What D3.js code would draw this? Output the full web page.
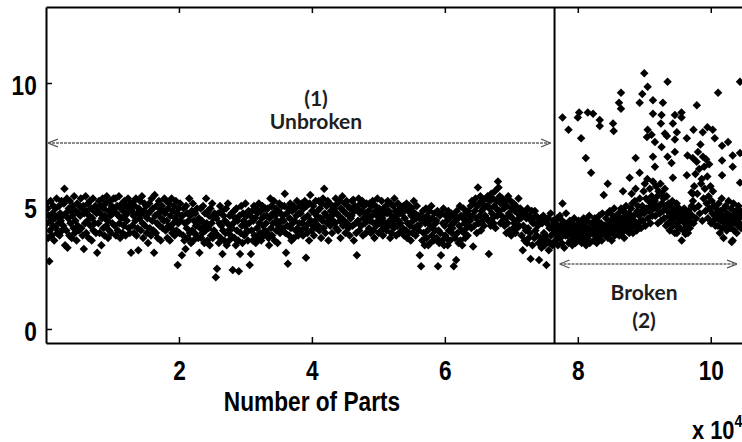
<!DOCTYPE html>
<html>
<head>
<meta charset="utf-8">
<script src="https://cdn.jsdelivr.net/npm/d3@7"></script>
<style>
  body { margin: 0; background: #fff; }
  .tick text { font-family: 'Liberation Sans', Arial, sans-serif; font-weight: bold; font-size: 27px; fill: #000; }
  .note { font-family: Lato, 'Open Sans', sans-serif; font-weight: bold; font-size: 21px; fill: #1e1e1e; }
  .lbl { font-family: 'Liberation Sans', Arial, sans-serif; font-weight: bold; fill: #000; }
</style>
</head>
<body>
<svg id="chart" width="742" height="442"></svg>
<script>
// tick labels (x axis is in units of 10^4 parts)
const xTicks = [2, 4, 6, 8, 10];
const yTicks = [0, 5, 10];

// part index where the tool broke, and last part visible
const breakPart = 7.65;
const lastPart = 10.47;

// values for the unbroken tool, in part order
const unbrokenValues = [
  5.1,4.3,4.9,3.7,4.6,2.75,4.0,5.2,4.4,3.8,4.7,4.2,5.0,3.6,4.5,4.9,4.1,5.3,3.9,4.6,4.3,5.0,3.8,4.7,4.4,5.2,4.0,4.6,
  4.2,5.1,5.7,3.4,4.7,4.0,5.3,3.3,4.5,4.9,3.8,5.2,4.3,4.8,3.7,4.6,5.0,4.1,5.4,3.9,4.4,4.8,3.6,5.1,4.2,4.7,4.0,5.0,
  4.6,5.3,4.1,4.9,3.8,5.0,3.25,4.7,4.3,5.4,3.9,4.8,4.4,5.1,3.7,4.6,5.2,4.2,4.9,3.6,4.5,5.3,4.0,4.8,4.3,5.0,3.9,4.7,
  3.1,4.8,4.3,5.2,3.9,4.7,5.0,3.4,4.5,5.3,4.1,4.9,3.8,4.6,5.1,4.2,5.4,4.4,3.7,4.8,4.0,5.2,4.6,3.9,5.0,4.3,4.7,5.3,
  4.9,4.2,5.3,3.8,4.7,5.0,4.0,4.6,5.4,4.3,3.7,4.9,4.5,5.1,3.9,4.8,4.2,5.2,4.6,3.8,5.0,4.4,4.7,5.3,4.1,4.9,3.9,5.1,
  3.1,4.8,4.2,5.15,4.6,3.9,5.0,4.4,5.3,3.8,4.7,4.1,3.2,4.9,4.5,5.2,4.0,4.7,5.4,4.3,3.7,4.8,5.1,4.2,4.6,5.0,3.9,4.5,
  3.5,4.7,5.1,4.1,4.8,3.8,5.3,4.4,4.9,4.0,3.1,5.45,4.6,3.9,5.0,4.3,3.7,4.7,5.2,4.2,4.9,3.6,4.5,5.0,4.1,4.8,4.4,5.3,
  4.7,4.0,5.2,4.4,3.7,4.9,4.2,5.1,3.6,4.6,4.1,5.3,3.9,4.8,4.3,5.0,3.8,4.5,5.2,4.0,4.7,2.6,4.3,4.9,3.9,5.1,4.4,4.6,
  3.0,4.6,3.8,4.9,3.6,4.3,3.25,5.0,4.1,4.7,3.7,4.4,5.3,3.9,4.6,3.5,4.8,4.0,5.1,3.6,4.4,3.9,4.7,4.2,3.8,4.9,4.3,3.7,
  4.5,3.1,4.1,4.9,3.7,4.4,3.9,5.0,4.2,3.5,4.7,4.0,5.3,4.3,3.6,4.8,4.1,4.6,3.4,4.9,3.8,4.3,5.1,3.7,4.5,4.0,4.7,3.9,
  2.1,4.5,2.45,3.8,4.7,3.5,4.3,5.0,3.7,4.2,4.8,3.05,4.0,4.6,3.6,4.4,3.9,4.9,3.4,4.3,5.1,4.0,3.6,4.6,4.2,3.8,4.7,4.1,
  2.4,4.3,4.8,3.7,4.5,3.4,4.9,4.0,4.4,3.6,2.35,4.6,3.05,3.9,5.0,4.2,3.5,4.7,4.4,3.8,4.2,5.1,3.9,4.6,4.0,3.6,4.8,4.3,
  2.6,4.6,3.05,4.0,4.8,3.6,4.4,5.0,3.8,4.5,3.5,4.9,4.1,4.7,3.7,5.1,4.3,3.9,4.8,3.6,4.5,5.0,4.2,3.8,4.6,4.0,4.9,4.3,
  4.6,3.9,4.9,3.7,3.4,4.5,5.3,4.1,5.0,3.8,4.7,4.3,5.2,3.6,4.6,4.9,4.0,4.4,3.5,4.8,4.2,5.1,3.9,4.7,4.4,5.0,4.1,4.6,
  4.4,5.0,5.5,3.9,3.1,4.7,4.2,2.65,4.9,3.8,4.5,5.1,4.1,3.6,4.8,4.3,5.0,3.7,4.4,4.9,4.0,4.6,5.2,4.1,3.8,4.7,4.3,5.0,
  4.7,4.0,5.1,4.3,3.8,4.9,4.5,5.2,4.1,2.9,5.0,3.9,4.6,4.3,3.6,5.1,5.45,4.4,4.0,4.8,4.2,5.0,3.8,4.7,4.4,5.2,4.1,4.6,
  4.8,4.2,5.2,4.0,4.9,4.5,3.7,5.1,4.4,5.3,4.1,5.7,4.7,3.9,4.6,5.0,4.3,5.2,3.6,4.5,5.1,4.2,4.8,4.6,3.9,5.0,4.4,4.7,
  4.9,4.3,5.3,4.1,4.7,5.1,4.0,4.6,5.2,4.4,3.7,4.9,4.5,5.4,4.2,4.8,4.4,5.1,3.9,4.7,5.2,4.3,5.0,4.1,4.6,3.8,4.9,4.5,
  4.6,5.2,4.2,5.25,3.6,4.8,5.0,4.3,3.9,3.0,4.9,4.4,5.3,4.0,4.7,5.1,4.2,4.8,5.2,3.8,4.5,5.0,4.3,4.7,3.9,5.1,4.4,4.6,
  4.8,4.1,5.1,4.4,3.9,5.0,4.6,5.2,4.0,4.3,3.7,4.8,5.0,4.2,4.6,5.3,4.4,3.9,4.9,4.3,4.7,4.0,5.2,4.5,3.8,4.9,4.2,4.7,
  4.3,5.0,4.0,4.7,5.2,4.2,4.8,4.4,3.7,5.1,3.9,4.6,4.3,5.0,4.1,5.3,4.5,4.8,3.8,4.6,4.2,5.1,4.4,3.9,4.9,4.3,4.7,4.0,
  4.7,4.1,5.0,3.8,4.5,4.9,4.0,5.1,3.7,4.3,4.8,3.9,5.0,4.2,3.6,4.6,4.9,3.9,4.4,5.2,4.1,4.7,3.8,4.5,5.0,4.2,4.6,4.0,
  4.2,3.0,4.6,2.55,4.4,3.6,4.8,3.9,4.5,3.4,4.3,4.9,3.7,4.6,4.0,3.4,4.4,4.8,3.5,4.2,5.0,3.8,4.5,4.1,3.6,4.7,4.0,4.3,
  4.4,3.7,4.8,2.55,4.0,3.5,4.6,3.9,3.0,4.7,3.6,4.3,4.9,3.4,4.2,3.8,4.6,3.7,4.4,3.4,4.8,4.0,4.5,3.6,4.2,4.7,3.9,4.1,
  4.3,2.55,4.6,3.7,4.4,2.8,4.8,3.9,4.5,3.5,4.2,5.0,3.6,4.6,4.0,3.4,4.5,4.9,3.9,4.3,3.7,4.7,4.1,4.4,3.8,4.8,4.2,4.6,
  4.4,5.0,4.1,5.2,4.6,3.35,5.1,4.2,4.8,5.3,4.5,3.9,5.0,5.75,4.3,5.1,4.6,5.4,4.0,4.8,5.2,4.4,4.9,4.2,5.0,4.6,5.3,4.5,
  5.0,5.4,4.4,3.05,4.9,5.2,4.2,5.5,4.7,4.5,5.3,4.3,5.0,5.6,4.1,4.9,5.2,4.6,6.0,5.75,4.8,5.4,4.3,5.1,4.6,5.3,4.4,5.0,
  4.9,4.2,5.2,4.5,3.9,5.0,4.3,5.4,4.7,4.0,4.6,5.2,3.8,4.9,4.5,4.1,5.1,4.3,4.8,3.9,5.0,4.4,4.1,4.7,5.3,4.2,4.6,4.9,
  4.5,3.8,4.8,3.2,4.2,4.6,3.6,4.7,4.0,4.5,3.5,4.9,4.1,3.7,4.6,3.9,2.85,4.4,4.8,3.4,4.3,4.5,3.7,4.8,4.0,4.6,3.8,4.3,
  4.2,3.5,2.8,4.4,3.7,4.5,3.3,4.3,3.6,4.6,3.9,3.4,4.4,3.8,2.6,4.3,3.6,4.5,3.2,4.1,3.5,4.7,3.8,4.2,3.4,4.4,3.9,4.0
];

// values for the broken tool, main band in part order
const brokenValues = [
  4.0,3.6,4.3,3.8,4.5,3.4,4.1,3.9,4.6,3.7,4.2,3.5,4.4,3.9,4.0,3.3,4.3,3.8,4.7,4.1,
  3.8,4.2,3.5,4.0,4.4,3.6,3.9,4.3,3.4,4.1,3.7,4.5,3.9,3.5,4.2,3.8,4.0,3.6,4.4,3.9,
  4.1,3.7,4.3,3.5,4.0,3.8,4.5,3.6,4.2,3.9,3.4,4.4,3.7,4.1,3.8,4.6,3.5,4.0,4.3,3.9,
  3.9,4.3,3.6,4.1,4.5,3.8,4.2,3.5,4.4,4.0,3.7,4.6,4.1,3.8,4.3,3.6,4.7,4.0,3.9,4.2,
  4.2,3.8,4.5,4.0,4.7,3.7,4.3,4.1,4.8,3.9,4.4,3.6,4.2,4.6,4.0,4.9,3.8,4.3,4.5,4.1,
  4.3,4.0,4.7,3.8,4.5,4.2,4.9,3.9,4.4,4.1,4.8,3.7,4.6,4.3,5.0,4.0,4.4,4.2,4.7,3.9,
  4.5,4.1,4.9,4.3,5.1,3.9,4.6,4.4,5.2,4.2,4.7,4.0,4.8,5.0,4.3,4.6,5.3,4.4,4.1,4.8,
  5.0,4.4,5.6,4.7,5.9,4.2,5.3,4.9,6.1,4.5,5.2,4.8,5.7,4.3,5.0,5.4,4.6,6.0,4.9,5.1,
  5.2,4.6,5.8,4.9,5.4,4.3,5.6,5.0,4.7,5.9,4.4,5.1,5.5,4.8,5.3,4.5,5.7,5.0,4.2,5.4,
  4.8,4.3,5.1,4.6,4.0,5.0,4.4,4.7,5.2,4.2,4.9,4.5,3.9,4.8,4.6,5.1,4.3,4.7,4.1,4.9,
  4.5,4.1,4.8,3.6,4.4,4.6,4.0,4.9,4.3,3.86,4.7,4.2,4.5,3.9,4.8,4.4,4.1,4.6,4.3,5.0,
  4.6,5.2,4.3,5.8,4.9,6.3,4.5,6.8,5.5,7.2,5.0,6.5,4.7,7.5,5.9,6.1,4.4,7.0,5.3,6.6,
  5.7,4.8,6.9,5.1,6.2,4.5,5.4,6.7,4.9,5.8,4.3,5.2,4.7,5.6,4.4,5.0,4.6,4.2,4.9,4.5,
  4.7,4.2,5.1,4.5,3.9,4.8,4.4,5.3,4.1,4.6,3.7,4.9,4.3,5.0,4.5,4.0,4.7,4.2,5.2,4.4,
  4.6,4.1,4.9,3.54,4.5,4.3,5.1,4.0,4.7,4.4,4.8,3.9,4.6,4.2,5.0,4.5,4.3,4.8,4.1,4.7
];

// scattered high readings after the break: [part (x10^4), value]
const brokenOutliers = [
  [7.77,8.6],[7.86,8.1],[8.0,8.6],[8.02,8.8],[8.05,7.75],[8.15,8.8],[8.23,8.75],[8.33,8.5],
  [8.33,8.25],[8.12,6.95],[8.2,6.35],[8.53,8.35],[8.54,8.05],[8.65,9.6],[8.62,9.2],[8.65,8.95],
  [8.45,5.9],[8.39,5.45],[7.77,5.1],[8.87,6.95],[8.78,6.15],[8.93,6.35],[8.68,5.6],[8.81,5.5],
  [9.0,10.4],[8.97,9.55],[8.93,9.2],[8.87,5.7],[9.05,9.85],[9.13,9.3],[9.28,9.2],[9.35,10.05],
  [9.13,8.75],[9.26,8.7],[9.25,8.35],[9.46,8.7],[9.56,8.8],[9.56,8.6],[9.43,8.35],[9.79,9.1],
  [10.11,9.6],[10.44,10.05],[9.05,8.1],[9.11,7.9],[9.16,7.6],[9.31,7.95],[9.34,7.85],[9.46,7.7],
  [9.49,8.0],[9.26,7.4],[9.13,7.0],[9.35,7.0],[9.41,6.75],[9.46,7.2],[9.16,6.6],[9.43,6.15],
  [9.64,7.75],[9.65,7.05],[9.73,6.95],[9.64,6.25],[9.74,8.1],[9.88,8.0],[9.95,8.2],[10.03,8.1],
  [10.06,7.75],[10.17,7.45],[10.26,7.6],[10.17,6.85],[10.17,6.25],[10.33,7.05],[10.33,6.6],
  [10.44,5.95],[10.44,7.15],[9.71,5.55],[9.73,5.5],[9.04,7.8],[9.49,3.9],[10.33,3.6]
];

const plot = { left: 46, right: 742, top: 7, bottom: 343 };
const squeeze = 0.84; // narrow bold look of the original axis font

const svg = d3.select('#chart');

const x = d3.scaleLinear().domain([0, lastPart]).range([plot.left, plot.right]);
const y = d3.scaleLinear().domain([-0.57, 13.09]).range([plot.bottom, plot.top]);

// build point list from the arrays
const unStep = breakPart / unbrokenValues.length;
const brStep = (lastPart - breakPart) / brokenValues.length;
const points = [];
unbrokenValues.forEach((v, i) => points.push([(i + 0.5) * unStep, v]));
brokenValues.forEach((v, i) => points.push([breakPart + (i + 0.5) * brStep, v]));
brokenOutliers.forEach(d => points.push(d));

svg.append('clipPath').attr('id', 'clip')
  .append('rect')
  .attr('x', plot.left).attr('y', plot.top)
  .attr('width', plot.right - plot.left).attr('height', plot.bottom - plot.top);

const diamond = d3.symbol().type(d3.symbolSquare).size(36)();

svg.append('g')
  .attr('clip-path', 'url(#clip)')
  .selectAll('path')
  .data(points)
  .enter()
  .append('path')
  .attr('d', diamond)
  .attr('transform', d => `translate(${x(d[0])},${y(d[1])}) rotate(45)`)
  .attr('fill', '#000');

// axes
const bottomAxis = svg.append('g')
  .attr('transform', `translate(0,${plot.bottom})`)
  .call(d3.axisBottom(x).tickValues(xTicks).tickSize(-6).tickSizeOuter(0).tickPadding(18));

const topAxis = svg.append('g')
  .attr('transform', `translate(0,${plot.top})`)
  .call(d3.axisTop(x).tickValues(xTicks).tickSize(-6).tickSizeOuter(0).tickFormat(''));

const leftAxis = svg.append('g')
  .attr('transform', `translate(${plot.left},0)`)
  .call(d3.axisLeft(y).tickValues(yTicks).tickSize(-6).tickSizeOuter(0).tickPadding(11));

[bottomAxis, topAxis, leftAxis].forEach(g => {
  g.select('.domain').attr('stroke', '#000').attr('stroke-width', 2);
  g.selectAll('.tick line').attr('stroke', '#000').attr('stroke-width', 1.5);
  g.selectAll('.tick text').attr('transform', `scale(${squeeze},1)`);
});
leftAxis.selectAll('.tick text').attr('dy', '0.42em');

// break line
svg.append('line')
  .attr('x1', x(breakPart)).attr('x2', x(breakPart))
  .attr('y1', plot.top).attr('y2', plot.bottom)
  .attr('stroke', '#000').attr('stroke-width', 2);

// arrow markers
const defs = svg.append('defs');
defs.append('marker')
  .attr('id', 'head')
  .attr('viewBox', '0 0 10 10')
  .attr('refX', 10).attr('refY', 5)
  .attr('markerWidth', 10).attr('markerHeight', 10)
  .attr('markerUnits', 'userSpaceOnUse')
  .attr('orient', 'auto-start-reverse')
  .append('path')
  .attr('d', 'M0,1 L10,5 L0,9')
  .attr('fill', 'none')
  .attr('stroke', '#555')
  .attr('stroke-width', 1.2);

function arrow(x1, x2, yy) {
  svg.append('line')
    .attr('x1', x1).attr('x2', x2)
    .attr('y1', yy).attr('y2', yy)
    .attr('stroke', '#666')
    .attr('stroke-width', 1.3)
    .attr('stroke-dasharray', '3,1')
    .attr('marker-start', 'url(#head)')
    .attr('marker-end', 'url(#head)');
}
arrow(plot.left + 2, x(breakPart) - 4, 143);
arrow(x(breakPart) + 5, 737, 264);

// annotations
const notes = [
  { t: '(1)', x: 316, y: 97 },
  { t: 'Unbroken', x: 316, y: 120 },
  { t: 'Broken', x: 644, y: 291 },
  { t: '(2)', x: 644, y: 319 }
];
svg.selectAll('.note')
  .data(notes)
  .enter()
  .append('text')
  .attr('class', 'note')
  .attr('x', d => d.x)
  .attr('y', d => d.y)
  .attr('text-anchor', 'middle')
  .attr('dominant-baseline', 'central')
  .text(d => d.t);

// axis title and multiplier
svg.append('g')
  .attr('transform', `translate(312,411) scale(${squeeze},1)`)
  .append('text')
  .attr('class', 'lbl')
  .attr('text-anchor', 'middle')
  .style('font-size', '27px')
  .text('Number of Parts');

const mult = svg.append('g')
  .attr('transform', `translate(692,439) scale(${squeeze},1)`)
  .append('text')
  .attr('class', 'lbl')
  .style('font-size', '26px');
mult.append('tspan').text('x 10');
mult.append('tspan').attr('dy', -12).style('font-size', '17px').text('4');
</script>
</body>
</html>
